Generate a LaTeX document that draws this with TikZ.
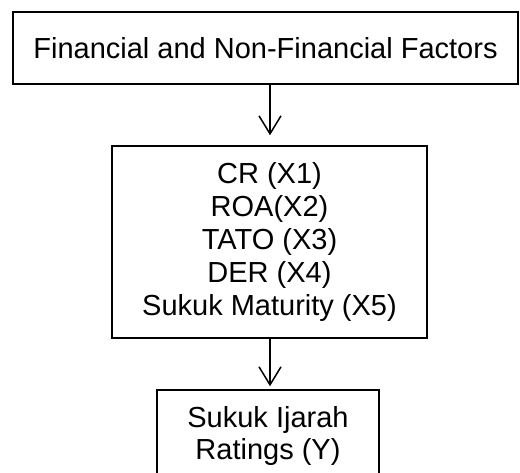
\documentclass[tikz,border=0pt]{standalone}
\usepackage{fontspec}
\setmainfont{Liberation Sans}
\usetikzlibrary{arrows.meta}
\begin{document}
\begin{tikzpicture}[x=1pt,y=-1pt,
  box/.style={draw,line width=1.5pt,inner sep=0pt,align=center,
    font=\fontsize{29}{32.8}\selectfont},
  conn/.style={line width=1.5pt,-{Straight Barb[length=18pt,width=22pt,line width=1.5pt]}}]
\useasboundingbox (0,0) rectangle (520,473);
\clip (0,0) rectangle (520,473);
\node[box,minimum width=505pt,minimum height=72pt] (top) at (265.5,48) {Financial and Non-Financial Factors};
\node[box,minimum width=315pt,minimum height=192pt] (mid) at (269.5,242) {CR (X1)\\ROA(X2)\\TATO (X3)\\DER (X4)\\Sukuk Maturity (X5)};
\node[box,minimum width=222pt,minimum height=92pt] (bot) at (268,436) {Sukuk Ijarah\\Ratings (Y)};
\draw[conn,shorten >=10pt] (top.south -| 270,0) -- (mid.north -| 270,0);
\draw[conn,shorten >=3pt] (mid.south -| 270,0) -- (bot.north -| 270,0);
\end{tikzpicture}
\end{document}
